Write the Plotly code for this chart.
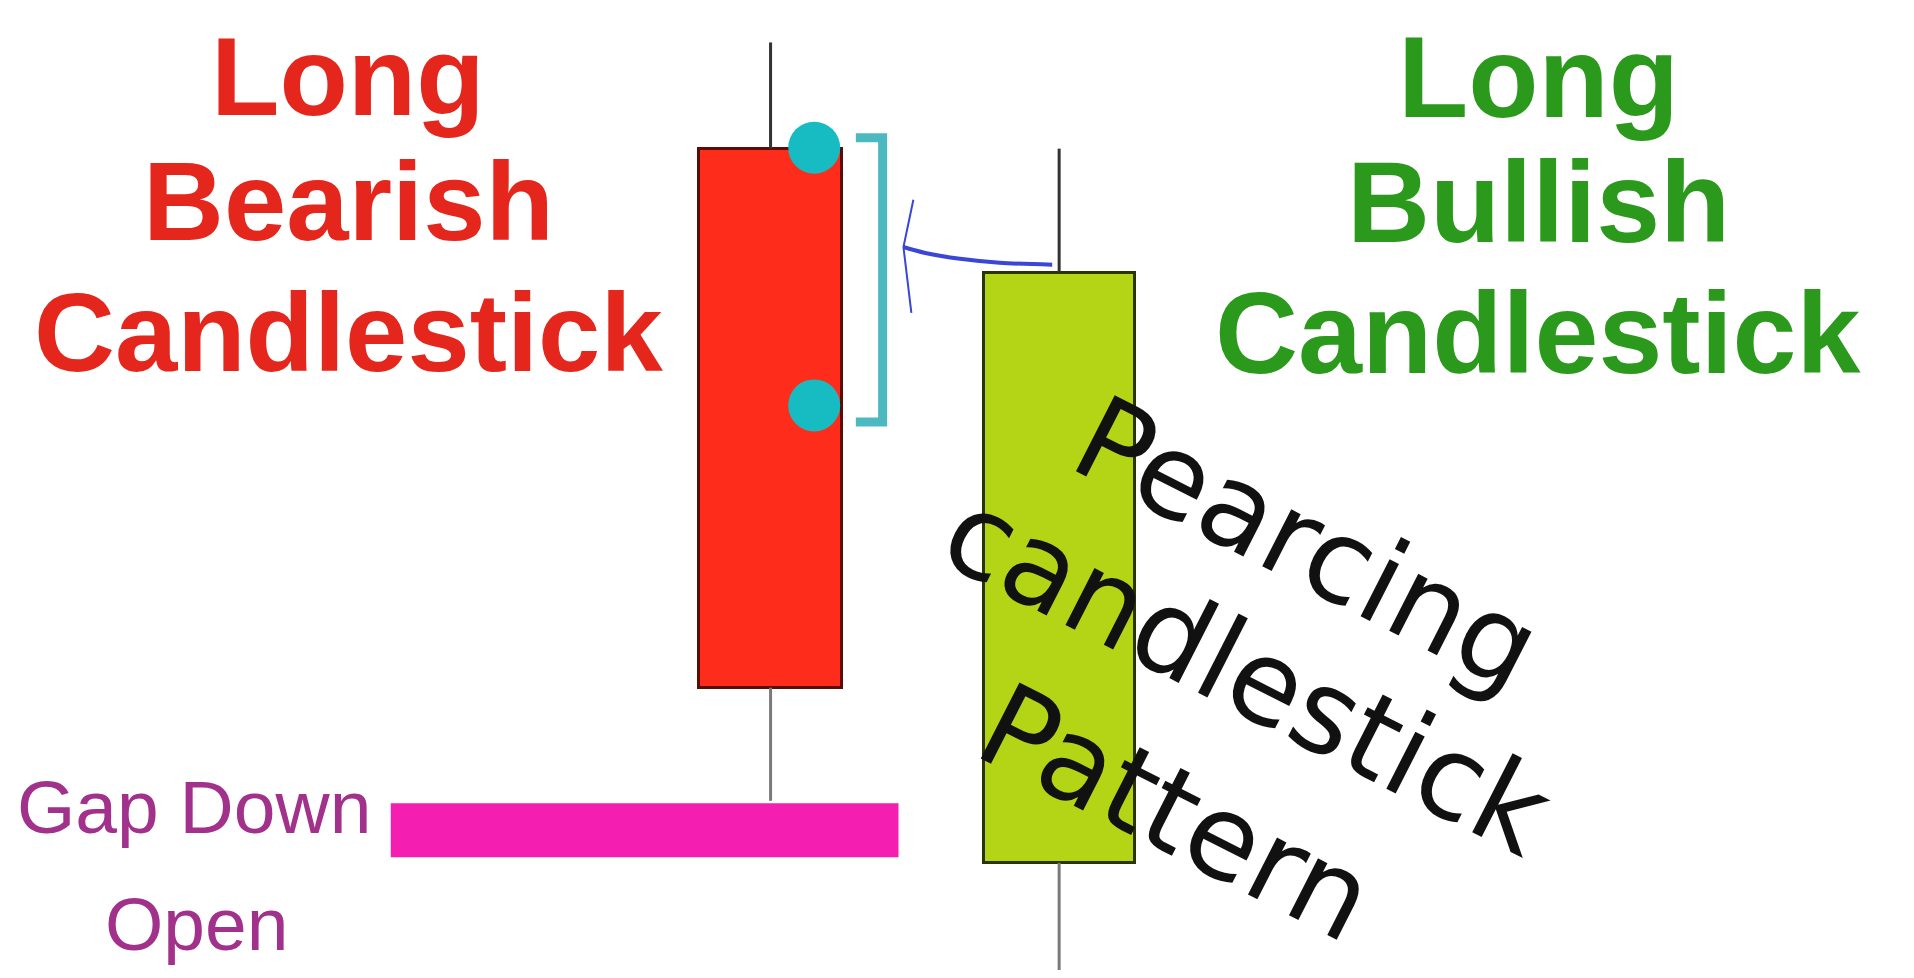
import plotly.graph_objects as go

# ---------------- data (x in horizontal units, y in price units) ----------------
candle_names = ["Long Bearish Candlestick", "Long Bullish Candlestick"]
candle_x = [769, 1060]
opens = [835, 109]
highs = [943, 835]
lows = [172, -30]
closes = [287, 709]

gap_open_level = 142          # gap-down open of the second session
gap_span = [386, 898]         # horizontal extent of the gap marker

bearish_marks_x = [813, 813]  # bearish open and mid-body reference points
bearish_marks_y = [836, 574]

bracket_x = [855, 882, 882, 855]
bracket_y = [846, 846, 557, 557]

arrow_curve_x = [903, 925, 960, 1000, 1053]
arrow_curve_y = [735, 729, 723, 719, 717]
arrow_head_x = [913, 903, 911]
arrow_head_y = [783, 735, 668]

fig = go.Figure()

# upper wicks (dark) and lower wicks (grey)
for i in range(2):
    top = max(opens[i], closes[i])
    bot = min(opens[i], closes[i])
    fig.add_trace(go.Scatter(x=[candle_x[i], candle_x[i]], y=[top, highs[i]], mode="lines",
                             line=dict(color="#333333", width=3), hoverinfo="skip"))
    fig.add_trace(go.Scatter(x=[candle_x[i], candle_x[i]], y=[lows[i], bot], mode="lines",
                             line=dict(color="#7a7a7a", width=3), hoverinfo="skip"))

# bodies
body_fill = ["#fe2d1b", "#b3d515"]
body_line = ["#5a0c06", "#2b3300"]
body_w = [145, 152]
for i in range(2):
    base = min(opens[i], closes[i])
    fig.add_trace(go.Bar(x=[candle_x[i]], y=[abs(closes[i] - opens[i])], base=[base],
                         width=[body_w[i]], name=candle_names[i],
                         marker=dict(color=body_fill[i], line=dict(color=body_line[i], width=3))))

# gap down open marker
fig.add_trace(go.Scatter(x=gap_span, y=[gap_open_level, gap_open_level], mode="lines",
                         line=dict(color="#f41fb0", width=54), hoverinfo="skip"))

# bracket
fig.add_trace(go.Scatter(x=bracket_x, y=bracket_y, mode="lines",
                         line=dict(color="#4cb9c0", width=9), hoverinfo="skip"))

# reference dots
fig.add_trace(go.Scatter(x=bearish_marks_x, y=bearish_marks_y, mode="markers",
                         marker=dict(color="#17bcc3", size=52), hoverinfo="skip"))

# blue arrow
fig.add_trace(go.Scatter(x=arrow_curve_x, y=arrow_curve_y, mode="lines",
                         line=dict(color="#3a46d6", width=4, shape="spline"), hoverinfo="skip"))
fig.add_trace(go.Scatter(x=arrow_head_x, y=arrow_head_y, mode="lines",
                         line=dict(color="#3a46d6", width=2), hoverinfo="skip"))

ann = []
def add_text(text, x, y, size, color, family, weight="normal", angle=0):
    ann.append(dict(text=text, x=x, y=y, xref="x", yref="y", showarrow=False,
                    xanchor="center", yanchor="middle", textangle=angle, borderpad=0,
                    font=dict(size=size, color=color, family=family, weight=weight)))

red = "#e5261c"
green = "#2b9a1c"
purple = "#a2318b"
for t, y in zip(["Long", "Bearish", "Candlestick"], [908, 781, 648]):
    add_text(t, 343, y, 112, red, "Liberation Sans", "bold")
for t, y in zip(["Long", "Bullish", "Candlestick"], [908, 781, 648]):
    add_text(t, 1543, y, 115, green, "Liberation Sans", "bold")
add_text("Gap Down", 188, 166, 75, purple, "Liberation Sans")
add_text("Open", 190, 47, 75, purple, "Liberation Sans")

add_text("Pearcing", 1310, 434, 117, "#111111", "DejaVu Sans", angle=27)
add_text("candlestick", 1250, 302, 117, "#111111", "DejaVu Sans", angle=27)
add_text("Pattern", 1178, 160, 117, "#111111", "DejaVu Sans", angle=27)

fig.update_layout(
    annotations=ann,
    showlegend=False,
    paper_bgcolor="white",
    plot_bgcolor="white",
    margin=dict(l=0, r=0, t=0, b=0, pad=0),
    xaxis=dict(range=[0, 1914], visible=False, fixedrange=True),
    yaxis=dict(range=[0, 978], visible=False, fixedrange=True),
    bargap=0,
)

fig.write_html("out.html")
